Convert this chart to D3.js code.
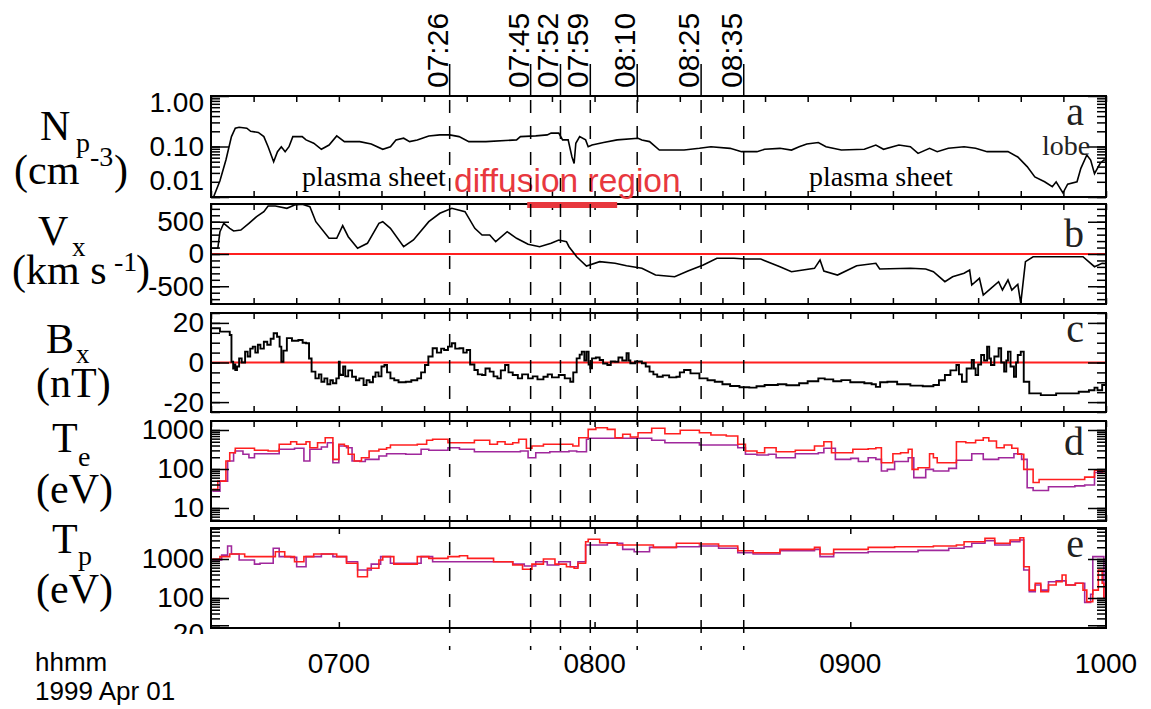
<!DOCTYPE html>
<html>
<head>
<meta charset="utf-8">
<script src="https://cdn.jsdelivr.net/npm/d3@7"></script>
<style>
  html, body { margin: 0; padding: 0; background: #fff; }
  svg { display: block; }
</style>
</head>
<body>
<svg id="chart" width="1151" height="709"></svg>
<script>
// ---------------------------------------------------------------
// Time is in minutes after 06:30 UT, 1999 Apr 01.
// ---------------------------------------------------------------
const timeDomain = [0, 210];
const hourTicks = [30, 90, 150, 210];
const hourLabels = ["0700", "0800", "0900", "1000"];
const minuteTicks = d3.range(0, 211, 10);

// marked instants
const eventLabels = ["07:26", "07:45", "07:52", "07:59", "08:10", "08:25", "08:35"];
const eventMinutes = [56, 75, 82, 89, 100, 115, 125];

// diffusion-region interval
const diffusionSpan = [74.2, 95.3];

// proton density (cm^-3)
const npData = [[0.6,0.01],[2.1,0.021],[3.5,0.054],[4.8,0.157],[5.7,0.23],[6.6,0.24],[8.4,0.23],[9.3,0.2],[11.1,0.19],[12.4,0.157],[13.4,0.099],[14.7,0.05],[15.6,0.079],[16.5,0.099],[17.4,0.079],[18.3,0.099],[19.2,0.157],[21.4,0.157],[22.3,0.135],[24.1,0.116],[25.9,0.088],[27.7,0.107],[29.5,0.162],[31.3,0.125],[34.9,0.125],[37.6,0.112],[40.3,0.088],[42.1,0.099],[43.4,0.135],[45.2,0.146],[46.6,0.125],[48.4,0.135],[51.1,0.162],[53.7,0.17],[56,0.17],[58.2,0.157],[60.5,0.125],[64.5,0.125],[71.7,0.135],[72.6,0.157],[76.2,0.162],[78.9,0.17],[79.8,0.184],[81.6,0.184],[82.5,0.135],[83.8,0.135],[84.7,0.062],[85.2,0.046],[85.6,0.116],[86.5,0.157],[87.9,0.135],[88.5,0.099],[89.4,0.107],[92.1,0.12],[95.3,0.135],[100.2,0.146],[101.1,0.135],[102.9,0.125],[105.2,0.085],[111,0.085],[114.6,0.092],[117.3,0.099],[121.8,0.092],[124.5,0.079],[128.1,0.079],[129.9,0.088],[133.5,0.092],[136.2,0.085],[138,0.099],[139.8,0.112],[142.5,0.12],[144.3,0.099],[147.9,0.085],[153.3,0.088],[156,0.107],[157.8,0.088],[161.4,0.107],[164.1,0.099],[165.9,0.073],[168.6,0.092],[170.4,0.079],[173,0.092],[176.7,0.099],[179.4,0.092],[182.1,0.079],[187,0.079],[189.3,0.062],[191.5,0.04],[193.3,0.025],[195.6,0.02],[197.4,0.016],[198.3,0.02],[199.9,0.012],[201,0.018],[203.2,0.02],[204.1,0.037],[205.5,0.068],[206.4,0.054],[207.3,0.029],[208.6,0.046],[209.5,0.054],[210,0.054]];

// Vx (km/s)
const vxData = [[0,88],[1.6,88],[2.1,346],[3.0,476],[4.4,398],[5.3,357],[7.0,372],[8.9,476],[10.7,579],[12.4,656],[13.4,744],[15.1,744],[17.8,708],[19.6,760],[21.4,770],[23.2,733],[24.6,501],[27.7,243],[29.5,243],[30.9,439],[32.2,268],[34.4,88],[36.7,166],[39.4,476],[40.3,501],[42.1,398],[45.2,113],[47.5,217],[51.1,501],[53.7,631],[56.5,708],[59.6,656],[61.9,398],[63.6,295],[65.4,295],[66.8,191],[69.5,346],[71.7,243],[74.4,150],[77.1,113],[79.8,166],[81.6,217],[83.4,191],[84,113],[85.8,-42],[88.1,-186],[91.2,-119],[94.8,-144],[97.5,-181],[101.1,-222],[104.3,-326],[108.8,-352],[111.9,-264],[115.5,-171],[118.7,-67],[122.7,-67],[125.4,-78],[129,-78],[133.5,-197],[136.2,-274],[141.6,-222],[142.9,-93],[143.8,-264],[147,-326],[151.5,-181],[156,-144],[156.9,-233],[164.1,-222],[167.7,-233],[169.5,-274],[172.2,-429],[174,-352],[176.7,-299],[178,-248],[178.5,-481],[180.3,-377],[181.2,-636],[183,-532],[184.8,-429],[185.7,-558],[187,-403],[187.9,-558],[189.3,-470],[190,-764],[191.1,-119],[192.9,-42],[204.6,-42],[207.3,-197],[209.1,-144],[210,-150]];

// Bx (nT)
const bxData = [[0,17.3],[2.1,15.6],[4.4,13.9],[4.8,0.4],[5.2,-3],[5.5,-1],[5.7,-3.8],[6.1,-2],[6.6,2.1],[7.2,0],[8,5.5],[8.6,3],[9.2,7],[9.8,8],[10.4,5],[11,9],[11.6,7],[12.4,10.5],[13.2,9],[14,12],[14.7,14.8],[15.5,13],[16.1,8],[16.5,0.4],[17,6],[17.8,12.3],[19,11],[20.5,11.4],[21.5,10],[22.3,9.7],[23,2],[23.6,-4.6],[24.5,-8],[25.3,-6],[25.9,-9.7],[26.6,-8],[27.3,-11],[28,-9],[28.6,-10.5],[29.4,-8],[30,0.4],[30.2,-6],[30.4,-6.3],[31,-2],[31.5,-7],[32.2,-4],[33.1,-7.2],[34,-9],[34.8,-8],[35.8,-11.4],[36.5,-9],[37.2,-10],[38,-7.2],[38.6,-5],[39.3,-7],[40,-2],[40.7,-1.3],[41.3,-5],[42.1,-8],[43,-9],[44,-10],[45.7,-9.7],[47,-9],[48.4,-8],[49.3,-5],[50.2,-1.3],[51,3],[52,7.2],[53,5],[54,7],[54.7,6.3],[55.6,8],[56.5,9.7],[57.3,7],[58.3,7.2],[59.2,5],[60,6.3],[60.8,-1],[61.8,-3.8],[62.6,-6],[63.6,-6.3],[64.4,-3],[65.4,-4.6],[66.3,-7],[67.2,-8],[68,-4],[69,-1.3],[69.8,-5],[70.8,-6.3],[72,-8],[73,-6],[74.4,-8],[75.5,-7],[76.6,-8.5],[78,-7.2],[79,-6],[80,-7.5],[81.6,-6.3],[83,-8],[84.3,-9.7],[85,-5],[85.8,2.1],[86.5,4],[87,5.5],[87.6,1],[88.1,5.5],[88.6,-1],[89,-2.9],[89.4,2.1],[90.3,2.5],[91.2,1.3],[92,-0.5],[93,-1.3],[93.8,0.5],[94.8,0.4],[95.6,2.5],[96.5,1],[97.5,4.7],[98,1],[98.4,-0.4],[99.5,0.5],[101.1,-0.4],[102,-2],[102.9,-4.6],[103.8,-6],[104.7,-7.2],[106,-6.5],[107.5,-7.5],[109.2,-7.2],[110,-5],[111,-3.8],[112.5,-5.5],[114.6,-8],[116.5,-9],[118.2,-9.7],[120,-11],[121.8,-11.9],[124,-12.5],[126.3,-12.7],[128,-12],[129.9,-11.4],[133,-11],[135,-11.5],[138,-10.5],[140,-9.5],[142.5,-8],[144,-8.5],[146,-9.5],[147.9,-8.9],[150,-10],[153.3,-10.5],[155,-11],[156,-12.3],[157,-10],[158.7,-9.7],[161,-11],[164.1,-11.7],[167,-12],[169.5,-11.4],[170.8,-9],[172.2,-6.3],[173.5,-4],[174.9,-1.3],[175.5,-6],[176.2,-9.7],[177.3,-3],[178.5,1.3],[179,-3],[179.4,-6.3],[180,-1],[180.7,3.8],[181.4,1],[182.1,8],[182.6,2],[183,-1.3],[183.8,3],[184.8,7.2],[185.4,0],[186.1,-4.6],[186.6,1],[187,5.5],[187.6,-2],[188.4,-7.2],[188.9,0],[189.3,3.8],[190,5.5],[190.7,-9.7],[192,-15.6],[194.7,-16.5],[198.3,-15.6],[203.6,-14.8],[206,-14],[207.3,-12.7],[208,-14],[209.1,-11.4],[210,-13]];

// electron temperature (eV): two estimates
const teRed = [[0.3,30],[1.6,49],[3.5,160],[4.4,262],[5.7,339],[8.9,339],[10.2,302],[13.4,290],[16,430],[18.7,500],[20.1,430],[22.3,500],[23.2,352],[25,473],[26.8,634],[28.6,177],[30,430],[31.3,389],[32.2,238],[33.6,160],[35.3,195],[37.1,290],[39.4,320],[41.2,352],[42.1,413],[45.7,413],[48.4,430],[50.6,545],[52,577],[55.6,473],[59.2,473],[61.8,545],[65.4,430],[67.2,500],[69,430],[70.8,473],[72.2,577],[74,339],[75.3,389],[78,430],[84.9,389],[86.3,634],[88.5,1040],[90.3,1146],[93,1040],[94.8,634],[96.6,775],[98.4,662],[100.2,853],[103.4,1105],[106.5,804],[110.1,982],[114.6,853],[117.3,744],[120.9,702],[123.6,430],[125.4,290],[128.1,262],[129.9,352],[132.6,278],[137.1,302],[141.6,389],[143.8,500],[145.6,262],[150.6,320],[154.2,331],[156,352],[157.3,145],[158.7,145],[160,247],[161.8,262],[163.6,320],[164.5,98],[165.9,108],[168.6,247],[169.5,195],[170.4,145],[174,145],[174.9,500],[177.1,473],[179.4,545],[181.2,634],[182.5,522],[184.3,352],[186.1,413],[187.9,339],[189.3,238],[190.7,98],[192.9,45],[194.3,54],[201.8,54],[205,62],[207.3,93],[209.1,85],[210,85]];
const tePurple = [[0.3,27],[2.1,49],[3.9,160],[5.3,262],[5.7,290],[7.5,238],[8.9,195],[10.2,247],[13.4,247],[16,320],[19.6,339],[21.8,160],[23.2,320],[25.9,367],[27.3,473],[28.6,145],[30,389],[31.8,352],[33.1,160],[34.9,155],[36.2,177],[39.4,215],[41.2,247],[45.7,238],[49.3,320],[51.1,302],[55.6,352],[58.3,320],[61.8,278],[69,278],[72.6,290],[74.4,195],[76.2,262],[79.5,278],[84,290],[85.8,278],[88.1,577],[88.5,612],[100.2,612],[103.4,545],[106.5,473],[110.1,473],[114.6,413],[120.9,413],[123.6,352],[125.4,238],[128.1,228],[130.8,238],[132.6,195],[137.1,247],[142.5,262],[143.8,339],[146.5,177],[150.1,187],[151.9,155],[154.2,195],[156,177],[157.3,89],[158.7,98],[160.4,155],[163.6,195],[164.9,60],[167.7,98],[169.5,89],[173.1,104],[174.9,167],[178.5,247],[181.2,177],[184.8,195],[188.4,247],[190.2,177],[191.5,33],[192.9,28],[196.5,35],[202.7,37],[205,39],[207.3,81],[209.1,89],[210,89]];

// proton temperature (eV): two estimates
const tpRed = [[0.3,1000],[2.1,1150],[4.4,1340],[7.9,1150],[11.5,1150],[15.1,1540],[17.3,1150],[19.6,850],[21.8,1150],[24.1,1340],[26.8,1340],[29.5,1150],[31.8,775],[34.4,350],[36.7,580],[39.4,940],[40.3,1150],[42.9,740],[45.7,740],[48.4,1150],[51.1,1040],[55.6,1150],[58.3,1215],[60.2,1040],[66.3,850],[70.8,700],[73.1,545],[75.3,740],[78,1000],[80.7,740],[83.4,635],[85.2,580],[86.1,775],[87.9,2780],[88.5,3200],[91.2,2620],[95.3,2290],[100.2,2290],[103.8,1990],[109.2,2530],[114.6,2420],[119.1,2150],[123.6,1630],[127.2,1450],[133.5,1770],[141.6,1990],[142.9,1340],[146.1,1770],[154.2,1990],[160.4,2070],[169.5,2150],[174.9,2290],[176.7,2780],[178.5,2780],[181.6,3390],[183.9,2530],[187.5,3070],[189.8,3520],[190.7,635],[192,159],[193.4,238],[194.7,145],[196.5,215],[198.3,262],[199.7,388],[200.6,215],[202.8,238],[204.6,159],[205.5,80],[206.9,159],[208.2,520],[209.1,238],[209.5,100],[210,100]];
const tpPurple = [[0.3,940],[2.5,1260],[3.9,2150],[4.8,1340],[6.6,940],[10.2,740],[11.5,775],[14.6,1880],[16,1150],[18.7,1100],[20.1,635],[22.3,1150],[25.9,1340],[28.6,1150],[31.8,850],[34.4,520],[37.6,740],[39.8,1150],[42.1,775],[45.7,775],[49.3,1150],[52,850],[61,850],[65.4,850],[70.8,740],[73.5,660],[76.2,850],[78.9,700],[81.6,850],[84.3,635],[86.1,850],[87.9,2290],[89.2,2290],[91.2,2290],[93,2530],[96.6,1770],[99.3,1540],[102.9,1990],[109.2,2070],[114.6,2150],[119.1,1880],[123.6,1450],[127.2,1340],[133.5,1630],[141.6,1770],[142.9,1150],[146.1,1450],[154.2,1540],[160.4,1540],[165.9,1660],[169.5,1660],[173.1,1880],[176.7,2070],[178.5,2530],[181.6,2950],[183.9,2290],[187.5,2780],[189.8,3070],[190.7,520],[192,145],[193.4,215],[194.7,159],[196.5,262],[198.3,275],[200.6,215],[202.8,238],[205,77],[206.4,125],[206.9,1150],[209.1,1150],[209.5,100],[210,100]];

// axis labels
const npTicks = [1, 0.1, 0.01],  npTickLabels = ["1.00", "0.10", "0.01"];
const vxTicks = [500, 0, -500],  vxTickLabels = ["500", "0", "-500"];
const bxTicks = [20, 0, -20],    bxTickLabels = ["20", "0", "-20"];
const teTicks = [1000, 100, 10], teTickLabels = ["1000", "100", "10"];
const tpTicks = [1000, 100, 20], tpTickLabels = ["1000", "100", "-20"];

// ---------------------------------------------------------------
const RED = "#ff1f1f", PURPLE = "#a0289c", ACCENT = "#e8383e";
const SANS = "'Liberation Sans', Arial, Helvetica, sans-serif";
const SERIF = "'Liberation Serif', 'Times New Roman', serif";

const svg = d3.select("#chart");
const X0 = 211, X1 = 1106;
const x = d3.scaleLinear().domain(timeDomain).range([X0, X1]);

function logMinor(lo, hi) {
  const out = [];
  for (let e = Math.floor(Math.log10(lo)); e <= Math.ceil(Math.log10(hi)); e++) {
    for (let m = 1; m < 10; m++) {
      const v = m * Math.pow(10, e);
      if (v >= lo * 0.999 && v <= hi * 1.001) out.push(v);
    }
  }
  return out;
}

const panels = [
  { id: "a", top: 96, bottom: 197, scale: d3.scaleLog().domain([0.01, 1]),
    major: npTicks, labels: npTickLabels, labelShift: [7, 0, -16],
    minor: logMinor(0.01, 1), xMinor: minuteTicks, curve: d3.curveLinear,
    series: [{ data: npData, color: "#000" }], letter: { text: "a", y: 125 } },
  { id: "b", top: 204, bottom: 304, scale: d3.scaleLinear().domain([-775, 775]),
    major: vxTicks, labels: vxTickLabels, labelShift: [0, 0, 0],
    minor: d3.range(-700, 701, 100), xMinor: minuteTicks, zero: true, curve: d3.curveLinear,
    series: [{ data: vxData, color: "#000" }], letter: { text: "b", y: 247 } },
  { id: "c", top: 313, bottom: 412, scale: d3.scaleLinear().domain([-25, 25]),
    major: bxTicks, labels: bxTickLabels, labelShift: [0, 0, 0],
    minor: d3.range(-25, 26, 5), xMinor: minuteTicks, zero: true, curve: d3.curveStepAfter,
    series: [{ data: bxData, color: "#000", width: 1.9 }], letter: { text: "c", y: 342 } },
  { id: "d", top: 421, bottom: 521, scale: d3.scaleLog().domain([4.64, 1701]),
    major: teTicks, labels: teTickLabels, labelShift: [0, 0, 0],
    minor: logMinor(4.64, 1701), xMinor: minuteTicks, curve: d3.curveStepAfter,
    series: [{ data: tePurple, color: PURPLE }, { data: teRed, color: RED }], letter: { text: "d", y: 455 } },
  { id: "e", top: 528, bottom: 628, scale: d3.scaleLog().domain([17, 6237]),
    major: tpTicks, labels: tpTickLabels, labelShift: [0, 0, 8],
    minor: logMinor(17, 6237), xMinor: hourTicks.slice(0, 3), curve: d3.curveStepAfter,
    series: [{ data: tpPurple, color: PURPLE }, { data: tpRed, color: RED }], letter: { text: "e", y: 557 } }
];

const defs = svg.append("defs");

panels.forEach(p => {
  const y = p.scale.range([p.bottom, p.top]);
  const g = svg.append("g").attr("class", "panel-" + p.id);

  defs.append("clipPath").attr("id", "clip-" + p.id)
    .append("rect").attr("x", X0).attr("y", p.top)
    .attr("width", X1 - X0).attr("height", p.bottom - p.top);

  // zero reference
  if (p.zero) {
    g.append("line").attr("x1", X0).attr("x2", X1)
      .attr("y1", y(0)).attr("y2", y(0))
      .attr("stroke", RED).attr("stroke-width", 2);
  }

  // traces
  const line = d3.line().x(d => x(d[0])).y(d => y(d[1])).curve(p.curve);
  const traces = g.append("g").attr("clip-path", `url(#clip-${p.id})`);
  p.series.forEach(s => {
    traces.append("path").datum(s.data)
      .attr("d", line).attr("fill", "none")
      .attr("stroke", s.color).attr("stroke-width", s.width || 1.6)
      .attr("stroke-linejoin", "miter");
  });

  // left axis: minor, then major with labels
  const leftMinor = g.append("g").attr("transform", `translate(${X0},0)`)
    .call(d3.axisLeft(y).tickValues(p.minor).tickSize(-9).tickFormat(""));
  leftMinor.select(".domain").remove();
  const leftMajor = g.append("g").attr("transform", `translate(${X0},0)`)
    .call(d3.axisLeft(y).tickValues(p.major).tickSize(-18).tickPadding(7)
      .tickFormat((d, i) => p.labels[i]));
  leftMajor.select(".domain").remove();
  leftMajor.selectAll("text")
    .attr("font-family", SANS).attr("font-size", 28).attr("fill", "#000")
    .attr("transform", (d, i) => `translate(0,${p.labelShift[i]})`);
  if (p.id === "e") {
    // the lowest label sits against the time-axis strip and is cut off by it
    defs.append("clipPath").attr("id", "clip-lower")
      .append("rect").attr("x", -400).attr("y", 0).attr("width", 1600).attr("height", 634);
    leftMajor.attr("clip-path", "url(#clip-lower)");
  }

  // right axis mirror
  const rightMinor = g.append("g").attr("transform", `translate(${X1},0)`)
    .call(d3.axisRight(y).tickValues(p.minor).tickSize(-9).tickFormat(""));
  rightMinor.select(".domain").remove();
  const rightMajor = g.append("g").attr("transform", `translate(${X1},0)`)
    .call(d3.axisRight(y).tickValues(p.major).tickSize(-18).tickFormat(""));
  rightMajor.select(".domain").remove();

  // time ticks on top and bottom edges
  const tTop = g.append("g").attr("transform", `translate(0,${p.top})`)
    .call(d3.axisTop(x).tickValues(p.xMinor).tickSize(-6).tickFormat(""));
  tTop.select(".domain").remove();
  const tBot = g.append("g").attr("transform", `translate(0,${p.bottom})`)
    .call(d3.axisBottom(x).tickValues(p.xMinor).tickSize(-6).tickFormat(""));
  tBot.select(".domain").remove();
  g.selectAll(".tick line").attr("stroke", "#000").attr("stroke-width", 1.5);

  // frame
  g.append("rect").attr("x", X0).attr("y", p.top)
    .attr("width", X1 - X0).attr("height", p.bottom - p.top)
    .attr("fill", "none").attr("stroke", "#000").attr("stroke-width", 2);

  // panel letter
  g.append("text").attr("x", 1084).attr("y", p.letter.y)
    .attr("text-anchor", "end").attr("font-family", SERIF)
    .attr("font-size", 40).attr("fill", "#222").text(p.letter.text);
});

// ---------------------------------------------------------------
// quantity names on the left
const titleParts = [
  { t: "N", x: 40, y: 140, s: 42 }, { t: "p", x: 76, y: 152, s: 28 },
  { t: "(cm", x: 14, y: 184, s: 42 }, { t: "-3", x: 90, y: 166, s: 28 }, { t: ")", x: 114, y: 184, s: 42 },
  { t: "V", x: 38, y: 245, s: 42 }, { t: "x", x: 72, y: 256, s: 27 },
  { t: "(km s", x: 12, y: 284, s: 42 }, { t: "-1", x: 114, y: 271, s: 28 }, { t: ")", x: 136, y: 284, s: 42 },
  { t: "B", x: 46, y: 353, s: 42 }, { t: "x", x: 76, y: 363, s: 27 },
  { t: "(nT)", x: 36, y: 397, s: 42 },
  { t: "T", x: 52, y: 452, s: 42 }, { t: "e", x: 78, y: 466, s: 28 },
  { t: "(eV)", x: 36, y: 503, s: 42 },
  { t: "T", x: 52, y: 553, s: 42 }, { t: "p", x: 78, y: 565, s: 28 },
  { t: "(eV)", x: 36, y: 603, s: 42 }
];
svg.append("g").selectAll("text").data(titleParts).join("text")
  .attr("x", d => d.x).attr("y", d => d.y)
  .attr("font-family", SERIF).attr("font-size", d => d.s).attr("fill", "#000")
  .text(d => d.t);

// region annotations in panel a
svg.append("text").attr("x", 302).attr("y", 186)
  .attr("font-family", SERIF).attr("font-size", 28).attr("fill", "#000").text("plasma sheet");
svg.append("text").attr("x", 809).attr("y", 186)
  .attr("font-family", SERIF).attr("font-size", 28).attr("fill", "#000").text("plasma sheet");
svg.append("text").attr("x", 1042).attr("y", 155)
  .attr("font-family", SERIF).attr("font-size", 28).attr("fill", "#222").text("lobe");
svg.append("text").attr("x", 454).attr("y", 192)
  .attr("font-family", SANS).attr("font-size", 33.5).attr("fill", ACCENT).text("diffusion region");

// diffusion-region bar
svg.append("line")
  .attr("x1", x(diffusionSpan[0])).attr("x2", x(diffusionSpan[1]))
  .attr("y1", 205).attr("y2", 205)
  .attr("stroke", ACCENT).attr("stroke-width", 6);

// event markers
const ev = svg.append("g");
eventMinutes.forEach((m, i) => {
  const xe = x(m);
  ev.append("line").attr("x1", xe).attr("x2", xe).attr("y1", 64).attr("y2", 96)
    .attr("stroke", "#000").attr("stroke-width", 1.5);
  ev.append("line").attr("x1", xe).attr("x2", xe).attr("y1", 100).attr("y2", 650)
    .attr("stroke", "#000").attr("stroke-width", 1.5)
    .attr("stroke-dasharray", "13,13");
  ev.append("text")
    .attr("transform", `translate(${xe - 2},88) rotate(-90)`)
    .attr("font-family", SANS).attr("font-size", 30).attr("fill", "#000")
    .text(eventLabels[i]);
});

// time axis labels
svg.append("g").selectAll("text").data(hourTicks).join("text")
  .attr("x", d => x(d)).attr("y", 673)
  .attr("text-anchor", "middle").attr("font-family", SANS)
  .attr("font-size", 28).attr("fill", "#000")
  .text((d, i) => hourLabels[i]);
svg.append("text").attr("x", 35).attr("y", 671)
  .attr("font-family", SANS).attr("font-size", 26).attr("fill", "#000").text("hhmm");
svg.append("text").attr("x", 35).attr("y", 700)
  .attr("font-family", SANS).attr("font-size", 26).attr("fill", "#000").text("1999 Apr 01");
</script>
</body>
</html>
